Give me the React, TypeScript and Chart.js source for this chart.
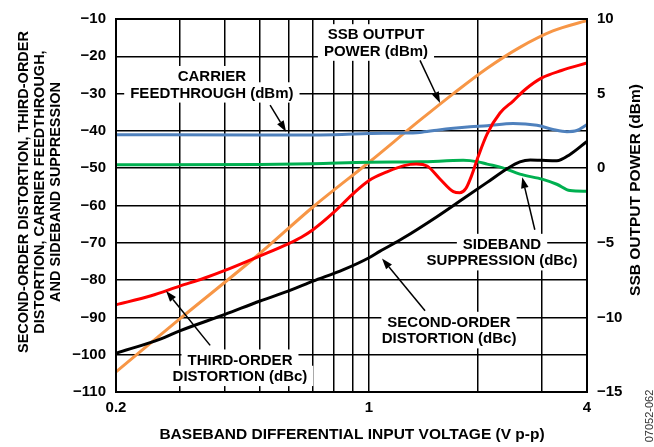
import React, { useEffect, useRef } from "react";
import { Chart, registerables } from "chart.js";

Chart.register(...registerables);

const FONT = '"Liberation Sans", Arial, Helvetica, sans-serif';

// ---- axes ----
const xTickValues = [0.2, 0.3, 0.4, 0.5, 0.6, 0.7, 0.8, 0.9, 1, 2, 3, 4];
const xTickLabels = [0.2, 1, 4];
const leftMin = -110;
const leftMax = -10;
const leftStep = 10;
const rightMin = -15;
const rightMax = 10;
const rightStep = 5;

// ---- series ----
const carrierX = [0.2, 0.5, 0.8, 1.0, 1.2, 1.38, 1.54, 1.71, 1.9, 2.12, 2.5, 2.91, 3.22, 3.52, 3.75, 4.0];
const carrierY = [-41.0, -41.1, -41.0, -40.7, -40.6, -40.4, -39.8, -39.3, -38.9, -38.6, -38.0, -38.5, -39.6, -40.2, -39.9, -38.3];

const sidebandX = [0.2, 0.5, 0.7, 1.0, 1.38, 1.82, 2.0, 2.12, 2.34, 2.61, 3.02, 3.3, 3.59, 4.0];
const sidebandY = [-49.1, -49.0, -48.8, -48.4, -48.3, -47.9, -48.3, -48.9, -49.9, -51.6, -53.0, -54.3, -56.0, -56.2];

const thirdX = [0.2, 0.25, 0.3, 0.35, 0.4, 0.5, 0.6, 0.65, 0.7, 0.8, 0.9, 1.0, 1.12, 1.25, 1.35, 1.45, 1.57, 1.71, 1.78, 1.85, 1.92, 2.0, 2.12, 2.3, 2.5, 2.7, 3.0, 3.4, 4.0];
const thirdY = [-86.6, -84.2, -81.6, -79.5, -77.4, -73.5, -70.2, -68.5, -66.5, -61.8, -57.0, -53.3, -51.0, -49.3, -48.9, -49.5, -52.9, -56.3, -56.6, -55.5, -52.0, -47.0, -40.8, -35.2, -32.0, -28.9, -25.8, -23.8, -21.8];

const secondX = [0.2, 0.265, 0.3, 0.4, 0.5, 0.6, 0.7, 0.85, 1.0, 1.07, 1.24, 1.54, 1.82, 2.12, 2.4, 2.61, 2.79, 3.0, 3.3, 3.59, 4.0];
const secondY = [-99.6, -95.8, -93.6, -89.2, -85.6, -82.9, -80.3, -77.2, -74.0, -72.3, -68.8, -63.0, -58.2, -53.8, -50.2, -48.3, -47.8, -47.9, -48.0, -46.3, -42.8];

const ssbX = [0.2, 0.3, 0.5, 0.7, 1.0, 1.38, 1.71, 2.12, 2.61, 3.22, 4.0];
const ssbY = [-13.65, -10.1, -5.7, -2.6, 0.4, 3.2, 5.0, 6.7, 8.1, 9.2, 9.9];

// ---- annotations (data coordinates on x / left axis) ----
const labelLines = [
  ["CARRIER", "FEEDTHROUGH (dBm)"],
  ["SSB OUTPUT", "POWER (dBm)"],
  ["SIDEBAND", "SUPPRESSION (dBc)"],
  ["SECOND-ORDER", "DISTORTION (dBc)"],
  ["THIRD-ORDER", "DISTORTION (dBc)"],
];
const labelX = [0.368, 1.045, 2.33, 1.663, 0.44];
const labelY = [-27.5, -16.3, -72.5, -93.4, -103.5];
const arrowFromX = [0.533, 1.383, 2.87, 1.428, 0.364];
const arrowFromY = [-33.1, -21.1, -66.5, -88.2, -97.5];
const arrowToX = [0.59, 1.571, 2.65, 1.086, 0.275];
const arrowToY = [-40.2, -32.5, -52.4, -74.2, -82.9];

const leftTitle = [
  "SECOND-ORDER DISTORTION, THIRD-ORDER",
  "DISTORTION, CARRIER FEEDTHROUGH,",
  "AND SIDEBAND SUPPRESSION",
];
const rightTitle = "SSB OUTPUT POWER (dBm)";
const xTitle = "BASEBAND DIFFERENTIAL INPUT VOLTAGE (V p-p)";
const figId = "07052-062";

const toPts = (xs: number[], ys: number[]) => xs.map((x, i) => ({ x, y: ys[i] }));

const LINE = 16.3;

const decorPlugin = {
  id: "decor",
  beforeDatasetsDraw(chart: any) {
    const { ctx } = chart;
    const xs = chart.scales.x;
    const ys = chart.scales.y;
    ctx.save();
    ctx.font = `bold 15px ${FONT}`;
    ctx.textAlign = "center";
    ctx.textBaseline = "middle";
    labelLines.forEach((lines, k) => {
      const cx = xs.getPixelForValue(labelX[k]);
      const cy = ys.getPixelForValue(labelY[k]);
      const n = lines.length;
      lines.forEach((t, i) => {
        const ly = cy + (i - (n - 1) / 2) * LINE;
        const w = ctx.measureText(t).width;
        ctx.fillStyle = "#fff";
        ctx.fillRect(cx - w / 2 - 6, ly - LINE / 2 - 2, w + 12, LINE + 4);
      });
      lines.forEach((t, i) => {
        const ly = cy + (i - (n - 1) / 2) * LINE;
        ctx.fillStyle = "#000";
        ctx.fillText(t, cx, ly + 1);
      });
    });
    ctx.restore();
  },
  afterDatasetsDraw(chart: any) {
    const { ctx, chartArea } = chart;
    const xs = chart.scales.x;
    const ys = chart.scales.y;
    ctx.save();
    ctx.strokeStyle = "#000";
    ctx.fillStyle = "#000";
    ctx.lineWidth = 1.5;
    arrowFromX.forEach((fx, k) => {
      const x1 = xs.getPixelForValue(fx);
      const y1 = ys.getPixelForValue(arrowFromY[k]);
      const x2 = xs.getPixelForValue(arrowToX[k]);
      const y2 = ys.getPixelForValue(arrowToY[k]);
      const ang = Math.atan2(y2 - y1, x2 - x1);
      const hl = 11;
      const hw = 3.8;
      const bx = x2 - hl * Math.cos(ang);
      const by = y2 - hl * Math.sin(ang);
      ctx.beginPath();
      ctx.moveTo(x1, y1);
      ctx.lineTo(bx, by);
      ctx.stroke();
      ctx.beginPath();
      ctx.moveTo(x2, y2);
      ctx.lineTo(bx + hw * Math.sin(ang), by - hw * Math.cos(ang));
      ctx.lineTo(bx - hw * Math.sin(ang), by + hw * Math.cos(ang));
      ctx.closePath();
      ctx.fill();
    });
    ctx.lineWidth = 2;
    ctx.strokeRect(chartArea.left, chartArea.top, chartArea.right - chartArea.left, chartArea.bottom - chartArea.top);
    ctx.restore();
  },
  afterDraw(chart: any) {
    const { ctx } = chart;
    ctx.save();
    ctx.fillStyle = "#000";
    ctx.textAlign = "center";
    ctx.textBaseline = "middle";
    ctx.save();
    ctx.font = `bold 14.5px ${FONT}`;
    ctx.translate(24, 192);
    ctx.rotate(-Math.PI / 2);
    leftTitle.forEach((t, i) => ctx.fillText(t, 0, i * 16));
    ctx.restore();
    ctx.save();
    ctx.font = `bold 15.5px ${FONT}`;
    ctx.translate(636, 190);
    ctx.rotate(-Math.PI / 2);
    ctx.fillText(rightTitle, 0, 0);
    ctx.restore();
    ctx.font = `bold 15.5px ${FONT}`;
    ctx.fillText(xTitle, 352, 435);
    ctx.save();
    ctx.font = `11px ${FONT}`;
    ctx.fillStyle = "#333";
    ctx.translate(650, 416);
    ctx.rotate(-Math.PI / 2);
    ctx.fillText(figId, 0, 0);
    ctx.restore();
    ctx.restore();
  },
};

const minus = (v: any) => String(v).replace("-", "\u2212");

export default function App() {
  const ref = useRef<HTMLCanvasElement | null>(null);
  useEffect(() => {
    if (!ref.current) return;
    const tickFont = { family: FONT, size: 15, weight: "bold" as const };
    const chart = new Chart(ref.current, {
      type: "line",
      data: {
        datasets: [
          { label: "Second-order distortion (dBc)", data: toPts(secondX, secondY), borderColor: "#000000", borderWidth: 3, yAxisID: "y" },
          { label: "Third-order distortion (dBc)", data: toPts(thirdX, thirdY), borderColor: "#ff0000", borderWidth: 3, yAxisID: "y" },
          { label: "Carrier feedthrough (dBm)", data: toPts(carrierX, carrierY), borderColor: "#4f81bd", borderWidth: 3, yAxisID: "y" },
          { label: "Sideband suppression (dBc)", data: toPts(sidebandX, sidebandY), borderColor: "#00b050", borderWidth: 3, yAxisID: "y" },
          { label: "SSB output power (dBm)", data: toPts(ssbX, ssbY), borderColor: "#f79646", borderWidth: 3, yAxisID: "y2" },
        ],
      },
      options: {
        responsive: false,
        animation: false,
        devicePixelRatio: 1,
        parsing: false as any,
        elements: { point: { radius: 0 }, line: { cubicInterpolationMode: "monotone", fill: false } },
        layout: { padding: { top: 15, left: 0, right: 0, bottom: 0 } },
        plugins: { legend: { display: false }, tooltip: { enabled: false } },
        scales: {
          x: {
            type: "logarithmic",
            min: 0.2,
            max: 4,
            afterBuildTicks: (s: any) => {
              s.ticks = xTickValues.map((v) => ({ value: v }));
            },
            afterFit: (s: any) => {
              s.height = 55;
            },
            ticks: {
              autoSkip: false,
              maxRotation: 0,
              padding: 7,
              color: "#000",
              font: tickFont,
              callback: (v: any) => (xTickLabels.includes(Number(v)) ? String(v) : ""),
            },
            grid: { color: "#000", lineWidth: 1.5, drawTicks: false },
            border: { display: false },
          },
          y: {
            type: "linear",
            position: "left",
            min: leftMin,
            max: leftMax,
            afterFit: (s: any) => {
              s.width = 116;
            },
            ticks: { stepSize: leftStep, padding: 10, color: "#000", font: tickFont, callback: minus },
            grid: { color: "#000", lineWidth: 1.5, drawTicks: false },
            border: { display: false },
          },
          y2: {
            type: "linear",
            position: "right",
            min: rightMin,
            max: rightMax,
            afterFit: (s: any) => {
              s.width = 67;
            },
            ticks: { stepSize: rightStep, padding: 10, color: "#000", font: tickFont, callback: minus },
            grid: { drawOnChartArea: false, drawTicks: false },
            border: { display: false },
          },
        },
      },
      plugins: [decorPlugin],
    });
    return () => chart.destroy();
  }, []);
  return (
    <div style={{ position: "absolute", left: 0, top: 0, width: 654, height: 447, background: "#fff" }}>
      <canvas ref={ref} width={654} height={447} style={{ display: "block" }} />
    </div>
  );
}
